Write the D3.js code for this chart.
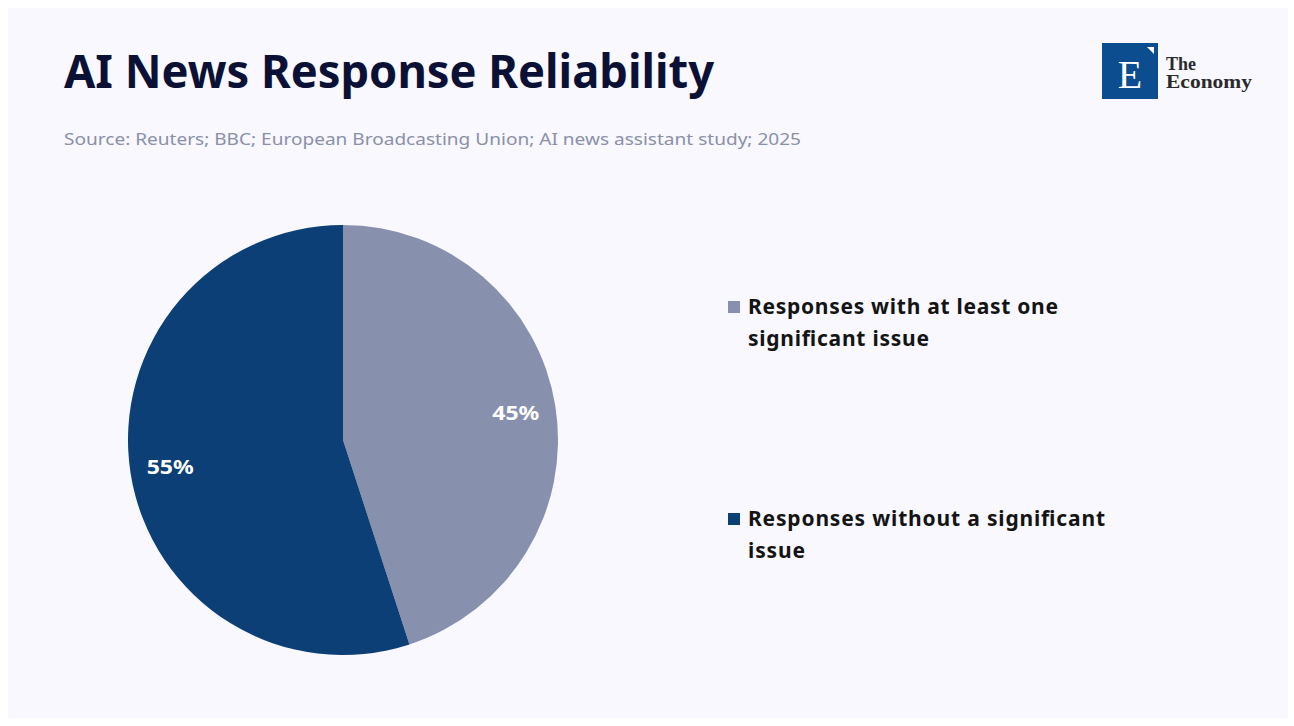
<!DOCTYPE html>
<html><head><meta charset="utf-8">
<script src="https://cdn.jsdelivr.net/npm/d3@7"></script>
<style>
html,body{margin:0;padding:0;background:#ffffff;}
svg{display:block;}
</style></head>
<body>
<svg id="chart" width="1294" height="726"></svg>
<script>
const categories = ["Responses with at least one significant issue", "Responses without a significant issue"];
const values = [45, 55];
const valueLabels = ["45%", "55%"];
const legendLines = [["Responses with at least one", "significant issue"], ["Responses without a significant", "issue"]];
const colors = ["#8791ae", "#0b3f75"];

const svg = d3.select("#chart");
svg.append("rect").attr("x", 8).attr("y", 8).attr("width", 1280).attr("height", 710).attr("fill", "#f8f8fe");

svg.append("text").attr("x", 64).attr("y", 88)
  .attr("font-family", "'Noto Sans', sans-serif").attr("font-weight", 700).attr("font-size", 47)
  .attr("fill", "#0b1135").attr("textLength", 650).attr("lengthAdjust", "spacingAndGlyphs")
  .text("AI News Response Reliability");

svg.append("text").attr("x", 64).attr("y", 145)
  .attr("font-family", "'Noto Sans', sans-serif").attr("font-size", 17)
  .attr("fill", "#8a90a8").attr("textLength", 737).attr("lengthAdjust", "spacingAndGlyphs")
  .text("Source: Reuters; BBC; European Broadcasting Union; AI news assistant study; 2025");

// logo
const logo = svg.append("g");
logo.append("rect").attr("x", 1102).attr("y", 43).attr("width", 56).attr("height", 56).attr("fill", "#0c4d8f");
logo.append("path").attr("d", "M1147,47 L1154,47 L1154,54 Z").attr("fill", "#ffffff");
logo.append("text").attr("x", 1130).attr("y", 88).attr("text-anchor", "middle")
  .attr("font-family", "'Liberation Serif', serif").attr("font-size", 40).attr("fill", "#ffffff").text("E");
logo.append("text").attr("x", 1166).attr("y", 70)
  .attr("font-family", "'Liberation Serif', serif").attr("font-weight", 700).attr("font-size", 18).attr("fill", "#2a2a2a").text("The");
logo.append("text").attr("x", 1166).attr("y", 88)
  .attr("font-family", "'Liberation Serif', serif").attr("font-weight", 700).attr("font-size", 18).attr("fill", "#2a2a2a")
  .attr("textLength", 86).attr("lengthAdjust", "spacingAndGlyphs").text("Economy");

// pie
const cx = 343, cy = 440, r = 215;
const pie = d3.pie().sort(null).value(d => d)(values);
const arc = d3.arc().innerRadius(0).outerRadius(r);
const labelArc = d3.arc().innerRadius(175).outerRadius(175);
const g = svg.append("g").attr("transform", `translate(${cx},${cy})`);
g.selectAll("path").data(pie).join("path").attr("d", arc).attr("fill", (d, i) => colors[i]);
g.selectAll("text").data(pie).join("text")
  .attr("transform", d => `translate(${labelArc.centroid(d)})`)
  .attr("text-anchor", "middle").attr("dy", "0.35em")
  .attr("font-family", "'Noto Sans', sans-serif").attr("font-weight", 700).attr("font-size", 20)
  .attr("fill", "#ffffff").attr("textLength", 47).attr("lengthAdjust", "spacingAndGlyphs")
  .text((d, i) => valueLabels[i]);

// legend
const legendY = [301, 513];
const lineWidths = [[310, 181], [357, 57]];
const leg = svg.append("g");
categories.forEach((c, i) => {
  leg.append("rect").attr("x", 728).attr("y", legendY[i]).attr("width", 12).attr("height", 12).attr("fill", colors[i]);
  legendLines[i].forEach((line, j) => {
    leg.append("text").attr("x", 748).attr("y", legendY[i] + 13 + j * 32)
      .attr("font-family", "'Noto Sans', sans-serif").attr("font-weight", 700).attr("font-size", 21)
      .attr("fill", "#141414").attr("textLength", lineWidths[i][j]).attr("lengthAdjust", "spacing")
      .text(line);
  });
});
</script>
</body></html>
